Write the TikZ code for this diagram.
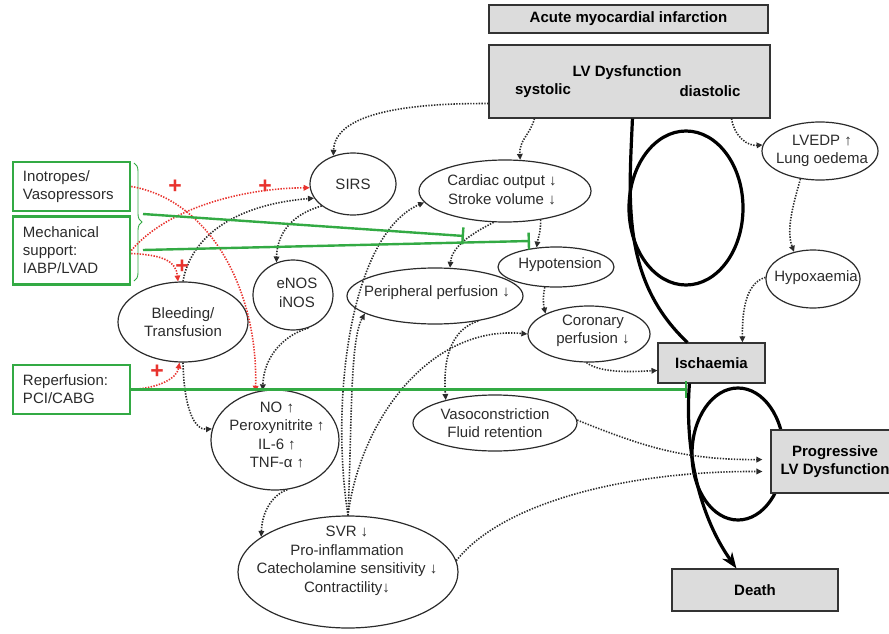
\documentclass[tikz,border=0pt]{standalone}
\usepackage{fontspec}
\setmainfont{Liberation Sans}
\usetikzlibrary{arrows.meta,shapes.geometric,calc,decorations.pathreplacing}
\definecolor{ink}{HTML}{2B2B2B}
\definecolor{boxgray}{HTML}{DCDCDC}
\definecolor{grn}{HTML}{33AA44}
\definecolor{redc}{HTML}{E8332E}
\begin{document}
\begin{tikzpicture}[x=1pt,y=-1pt,
  ell/.style={draw=ink, line width=1.2pt, ellipse, inner sep=0pt},
  etxt/.style={font=\fontsize{15}{18.5}\selectfont, align=center, text=ink, inner sep=0pt},
  gbox/.style={draw=black!80, fill=boxgray, line width=1.1pt, inner sep=0pt, align=center, font=\bfseries\fontsize{15}{18}\selectfont},
  btxt/.style={inner sep=0pt, font=\bfseries\fontsize{15}{18}\selectfont},
  grbox/.style={draw=grn, line width=2.5pt, fill=white, inner xsep=10pt, inner ysep=0pt, text width=97pt, align=left, font=\fontsize{15}{18}\selectfont, text=ink},
  dotarr/.style={draw=ink, line width=1.6pt, dash pattern=on 1.4pt off 1.4pt, -{Triangle[length=6pt,width=5.5pt]}},
  redarr/.style={dotarr, draw=redc},
  inhib/.style={draw=grn, line width=2.4pt, -{Bar[width=17pt]}},
  heavy/.style={draw=black, line width=3.2pt},
  plus/.style={text=redc, font=\bfseries\fontsize{23}{23}\selectfont, inner sep=0pt}]
\useasboundingbox (0,0) rectangle (889,634);
\clip (0,0) rectangle (889,634);

% heavy loops
\draw[heavy] (686,208) ellipse [x radius=57, y radius=77];
\draw[heavy] (738,454) ellipse [x radius=46, y radius=66];

% gray boxes
\node[gbox, minimum width=279pt, minimum height=28pt] (ami) at (628.5,19) {Acute myocardial infarction};
\node[gbox, minimum width=281pt, minimum height=73pt] (lv) at (629.5,81.5) {};
\node[btxt] (lvt) at (627,73) {LV Dysfunction};
\node[btxt] (syst) at (543,91) {systolic};
\node[btxt] (diast) at (710,91) {diastolic};
\node[gbox, minimum width=107pt, minimum height=40pt] (isch) at (711.5,363) {Ischaemia};
\node[gbox, minimum width=166pt, minimum height=42pt] (death) at (755,590) {Death};
\node[gbox, minimum width=128pt, minimum height=63pt] (prog) at (835,461.5) {Progressive\\LV Dysfunction};

\draw[heavy] ($(lv.south west)+(144,0)$) .. controls (629,200) and (621,280) .. ($(isch.north west)+(30,0)$);
\draw[heavy, -{Stealth[length=16pt,width=12pt]}] ($(isch.south west)+(32,0)$) .. controls (685,440) and (695,510) .. ($(death.north west)+(65,0)$);

% green boxes
\node[grbox, minimum height=49pt] (ino) at (71.5,186.5) {Inotropes/\\Vasopressors};
\node[grbox, minimum height=68pt] (mech) at (71.5,250.5) {Mechanical\\support:\\IABP/LVAD};
\node[grbox, minimum height=49pt] (rep) at (71.5,389.5) {Reperfusion:\\PCI/CABG};
\draw[grn, line width=0.9pt, decorate, decoration={brace, amplitude=8pt}] (134,163) -- (134,281);

% ellipses
\node[ell, minimum width=86pt, minimum height=62pt] (sirs) at (353,184) {};
\node[etxt] (sirst) at (353,184) {SIRS};
\node[ell, minimum width=172pt, minimum height=62pt] (co) at (505,191) {};
\node[etxt] (cot) at (502,190) {Cardiac output ↓\\Stroke volume ↓};
\node[ell, minimum width=80pt, minimum height=70pt] (enos) at (293,295) {};
\node[etxt] (enost) at (297,293) {eNOS\\iNOS};
\node[ell, minimum width=176pt, minimum height=56pt] (pp) at (435,296) {};
\node[etxt] (ppt) at (437,293) {Peripheral perfusion ↓};
\node[ell, minimum width=116pt, minimum height=40pt] (hypo) at (556,267) {};
\node[etxt] (hypot) at (560,265) {Hypotension};
\node[ell, minimum width=122pt, minimum height=56pt] (cor) at (589,334) {};
\node[etxt] (cort) at (593,331) {Coronary\\perfusion ↓};
\node[ell, minimum width=130pt, minimum height=80pt] (bleed) at (183,322) {};
\node[etxt] (bleedt) at (183,322) {Bleeding/\\Transfusion};
\node[ell, minimum width=128pt, minimum height=100pt] (no) at (275,440) {};
\node[etxt] (not) at (277,435) {NO ↑\\Peroxynitrite ↑\\IL-6 ↑\\TNF-α ↑};
\node[ell, minimum width=164pt, minimum height=56pt] (vaso) at (495,423) {};
\node[etxt] (vasot) at (495,423) {Vasoconstriction\\Fluid retention};
\node[ell, minimum width=220pt, minimum height=112pt] (svr) at (348,572) {};
\node[etxt] (svrt) at (347,561) {SVR ↓\\Pro-inflammation\\Catecholamine sensitivity ↓\\Contractility↓};
\node[ell, minimum width=116pt, minimum height=58pt] (lvedp) at (820,151) {};
\node[etxt] (lvedpt) at (822,151) {LVEDP ↑\\Lung oedema};
\node[ell, minimum width=94pt, minimum height=58pt] (hypox) at (813,279) {};
\node[etxt] (hypoxt) at (816,278) {Hypoxaemia};

% black dotted arrows
\draw[dotarr] ($(lv.south west)+(0,-15)$) .. controls (400,103) and (335,115) .. (sirs.125);
\draw[dotarr] ($(lv.south west)+(46,0)$) .. controls (530,135) and (519,140) .. (co.64);
\draw[dotarr] ($(lv.south west)+(243,0)$) .. controls (735,138) and (748,146) .. (lvedp.174);
\draw[dotarr] (lvedp.235) .. controls (793,205) and (786,230) .. (hypox.125);
\draw[dotarr] (hypox.178) .. controls (750,282) and (742,300) .. ($(isch.north west)+(85,0)$);
\draw[dotarr] (cor.265) .. controls (600,373) and (630,372) .. ($(isch.north west)+(0,28)$);
\draw[dotarr] (co.250) .. controls (475,232) and (452,245) .. (pp.62);
\draw[dotarr] (co.321) .. controls (541,232) and (538,238) .. (hypo.135);
\draw[dotarr] (hypo.241) .. controls (543,297) and (543,303) .. (cor.155);
\draw[dotarr] (pp.330) .. controls (450,330) and (443,360) .. (vaso.155);
\draw[dotarr, shorten >=8pt] (vaso.2) .. controls (640,445) and (680,460) .. ($(prog.west)+(0,-2)$);
\draw[dotarr, shorten >=8pt] (svr.6) .. controls (500,505) and (620,471) .. ($(prog.west)+(0,10)$);
\draw[dotarr] (bleed.270) .. controls (184,410) and (195,430) .. (no.170);
\draw[dotarr] (bleed.90) .. controls (190,240) and (230,205) .. (sirs.200);
\draw[dotarr] (sirs.215) .. controls (290,215) and (277,235) .. (enos.117);
\draw[dotarr] (enos.295) .. controls (285,335) and (264,355) .. (no.104);
\draw[dotarr] (no.284) .. controls (272,495) and (262,512) .. (svr.158);
\draw[dotarr] (svr.90) .. controls (330,400) and (350,235) .. (co.188);
\draw[dotarr] (svr.90) .. controls (352,420) and (350,340) .. (pp.194);
\draw[dotarr] (svr.90) .. controls (360,420) and (430,325) .. (cor.180);

% red dotted arrows
\draw[redarr] (ino.east) .. controls (210,200) and (258,290) .. (no.112);
\draw[redarr] (mech.east) .. controls (170,205) and (250,188) .. (sirs.185);
\draw[redarr] ($(mech.east)+(0,3)$) .. controls (165,255) and (176,262) .. (bleed.97);
\draw[redarr] (rep.east) .. controls (160,388) and (177,378) .. (bleed.265);
\node[plus] (p1) at (175,187) {+};
\node[plus] (p2) at (265,187) {+};
\node[plus] (p3) at (182,267) {+};
\node[plus] (p4) at (157,372) {+};

% green inhibition lines
\coordinate (g1s) at (143,214);
\coordinate (g1e) at (464,236);
\coordinate (g2s) at (143,250);
\coordinate (g2e) at (530,241);
\coordinate (g3e) at (687,389.5);
\draw[inhib] (g1s) -- (g1e);
\draw[inhib] (g2s) -- (g2e);
\draw[inhib] (rep.east) -- (g3e);
\end{tikzpicture}
\end{document}
